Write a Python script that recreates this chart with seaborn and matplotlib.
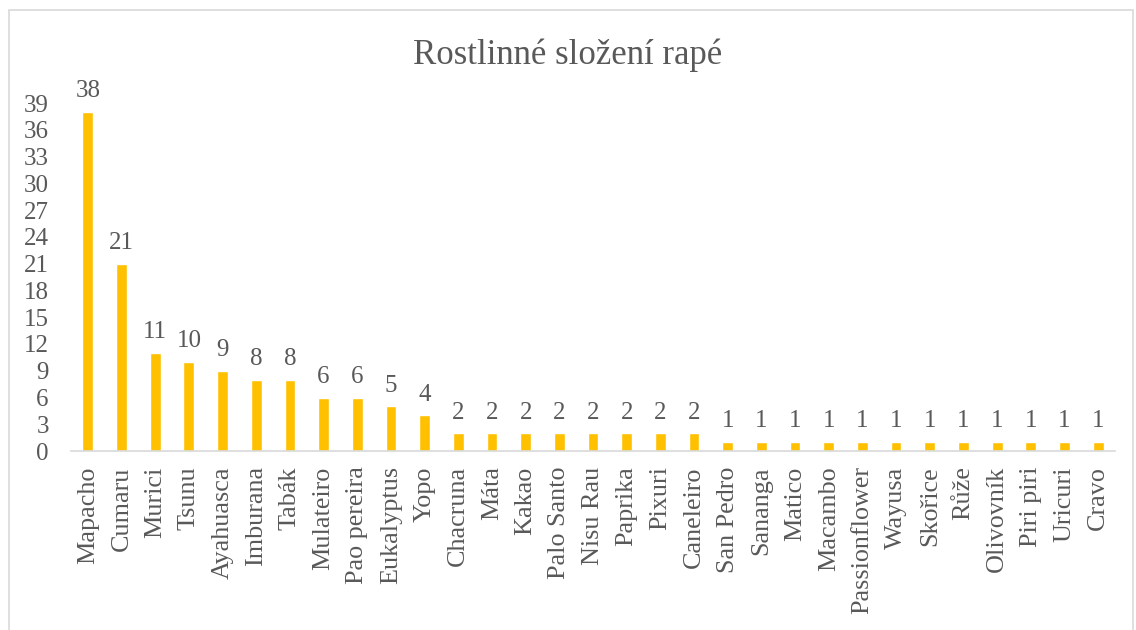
import matplotlib
matplotlib.use("Agg")
import matplotlib.pyplot as plt
import seaborn as sns
import pandas as pd
from matplotlib.patches import Rectangle

categories = ["Mapacho", "Cumaru", "Murici", "Tsunu", "Ayahuasca", "Imburana", "Tabák",
              "Mulateiro", "Pao pereira", "Eukalyptus", "Yopo", "Chacruna", "Máta", "Kakao",
              "Palo Santo", "Nisu Rau", "Paprika", "Pixuri", "Caneleiro", "San Pedro",
              "Sananga", "Matico", "Macambo", "Passionflower", "Wayusa", "Skořice", "Růže",
              "Olivovník", "Piri piri", "Uricuri", "Cravo"]
values = [38, 21, 11, 10, 9, 8, 8, 6, 6, 5, 4, 2, 2, 2, 2, 2, 2, 2, 2, 1, 1, 1, 1, 1,
          1, 1, 1, 1, 1, 1, 1]
yticks = list(range(0, 40, 3))
title = "Rostlinné složení rapé"

sns.set_theme(style="white")
plt.rcParams['font.family'] = ['Liberation Serif', 'DejaVu Serif']
txt = "#595959"

df = pd.DataFrame({"cat": categories, "val": values})
fig = plt.figure(figsize=(11.36, 6.3), dpi=100)
ax = fig.add_axes([71/1136, 0.284, (1115-71)/1136, 0.5525])
sns.barplot(data=df, x="cat", y="val", color="#FFC000", saturation=1, width=0.32, ax=ax)
ax.set_ylim(0, 39)
ax.set_xlim(-0.5, len(categories) - 0.5)
ax.set_yticks(yticks)
ax.set_yticklabels([str(t) for t in yticks], fontsize=18, color=txt)
ax.tick_params(axis='y', length=0, pad=16)
ax.tick_params(axis='x', length=0, pad=11)
ax.set_xticks(range(len(categories)))
ax.set_xticklabels(categories, rotation=90, fontsize=18.8, color=txt)
ax.set_xlabel("")
ax.set_ylabel("")
for s in ["top", "right", "left"]:
    ax.spines[s].set_visible(False)
ax.spines["bottom"].set_color("#D9D9D9")
ax.spines["bottom"].set_linewidth(1.2)
for c in ax.containers:
    ax.bar_label(c, labels=[str(v) for v in values], padding=7, fontsize=18, color=txt)
fig.text(0.5, 0.912, title, ha="center", va="center", fontsize=25, color=txt)
fig.patches.append(Rectangle((9/1136, -0.05), 1124/1136, 1 - 10/630 + 0.05,
                             transform=fig.transFigure, fill=False,
                             edgecolor="#D9D9D9", linewidth=1.2))
fig.savefig("out.png", dpi=100)
